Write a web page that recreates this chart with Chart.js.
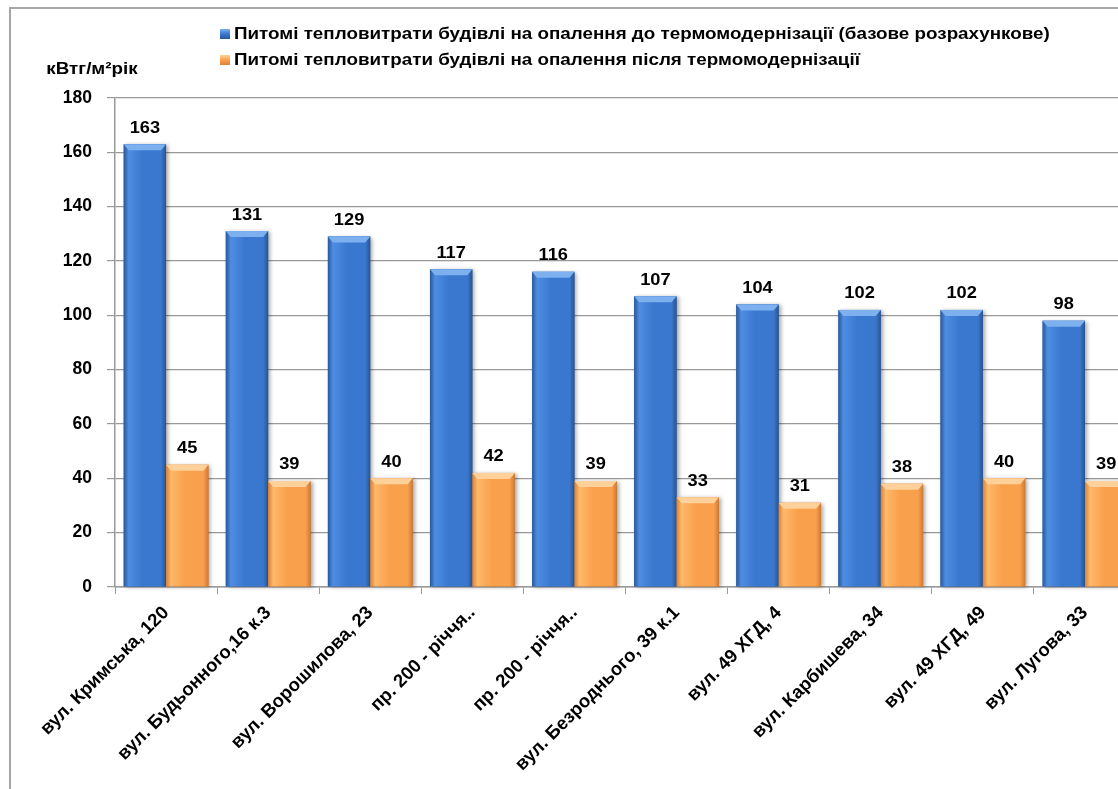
<html>
	<head>
		<meta charset="utf-8">
		<script src="https://cdn.jsdelivr.net/npm/chart.js"></script>
		<style>
			html, body { margin: 0; padding: 0; overflow: hidden; background: #fff; }
			#frame { position: absolute; left: 9px; top: 7px; width: 2000px; height: 2000px; border: 2px solid #a6a6a6; }
			#wrap { position: absolute; left: 0; top: 0; width: 1140px; height: 789px; }
		</style>
	</head>

	<body>
		<div id="frame"></div>
		<div id="wrap">
			<canvas id="myChart"></canvas>
		</div>

		<script>
			const categories = [
				'вул. Кримська, 120',
				'вул. Будьонного,16 к.3',
				'вул. Ворошилова, 23',
				'пр. 200 - річчя..',
				'пр. 200 - річчя..',
				'вул. Безроднього, 39 к.1',
				'вул. 49 ХГД, 4',
				'вул. Карбишева, 34',
				'вул. 49 ХГД, 49',
				'вул. Лугова, 33'
			];
			const before = [163, 131, 129, 117, 116, 107, 104, 102, 102, 98];
			const after = [45, 39, 40, 42, 39, 33, 31, 38, 40, 39];
			const seriesNames = [
				'Питомі тепловитрати будівлі на опалення до термомодернізації (базове розрахункове)',
				'Питомі тепловитрати будівлі на опалення після термомодернізації'
			];
			const yTicks = [0, 20, 40, 60, 80, 100, 120, 140, 160, 180];
			const yTitle = 'кВтг/м²рік';

			const FONT = '"Liberation Sans", Arial, sans-serif';
			const STRETCH = 1.14; // the original text is a bit wide

			// colours for the glossy bars: [dark edge, light, main, dark edge, top bevel]
			const palettes = [
				['#2a5898', '#4d8de2', '#3a78cf', '#28558f', '#7cb0ef'],
				['#d9823a', '#ffb869', '#f9a04c', '#cf7a34', '#ffd19a']
			];

			function wideText(ctx, text, x, y) {
				ctx.save();
				ctx.translate(x, y);
				ctx.scale(STRETCH, 1);
				ctx.fillText(text, 0, 0);
				ctx.restore();
			}

			const barStyle = {
				id: 'barStyle',
				afterDatasetsDraw(chart) {
					const ctx = chart.ctx;
					chart.data.datasets.forEach((ds, di) => {
						const p = palettes[di];
						chart.getDatasetMeta(di).data.forEach(bar => {
							const { x, y, base, width } = bar.getProps(['x', 'y', 'base', 'width'], true);
							const l = x - width / 2, r = x + width / 2;
							ctx.save();
							ctx.shadowColor = 'rgba(0,0,0,0.35)';
							ctx.shadowBlur = 4;
							ctx.shadowOffsetX = 2;
							ctx.shadowOffsetY = 1;
							const g = ctx.createLinearGradient(l, 0, r, 0);
							g.addColorStop(0, p[0]);
							g.addColorStop(0.12, p[1]);
							g.addColorStop(0.45, p[2]);
							g.addColorStop(0.88, p[2]);
							g.addColorStop(1, p[3]);
							ctx.fillStyle = g;
							ctx.fillRect(l, y, width, base - y);
							ctx.restore();
							// top bevel
							ctx.save();
							ctx.beginPath();
							ctx.moveTo(l, y);
							ctx.lineTo(r, y);
							ctx.lineTo(r - 5, y + 6);
							ctx.lineTo(l + 5, y + 6);
							ctx.closePath();
							ctx.fillStyle = p[4];
							ctx.fill();
							ctx.restore();
						});
					});
				}
			};

			const valueLabels = {
				id: 'valueLabels',
				afterDatasetsDraw(chart) {
					const ctx = chart.ctx;
					ctx.save();
					ctx.font = 'bold 16px ' + FONT;
					ctx.fillStyle = '#000';
					ctx.textAlign = 'center';
					ctx.textBaseline = 'bottom';
					chart.data.datasets.forEach((ds, di) => {
						chart.getDatasetMeta(di).data.forEach((bar, i) => {
							wideText(ctx, String(ds.data[i]), bar.x, bar.y - 8);
						});
					});
					ctx.restore();
				}
			};

			const headerText = {
				id: 'headerText',
				afterDraw(chart) {
					const ctx = chart.ctx;
					ctx.save();
					ctx.font = 'bold 16.5px ' + FONT;
					ctx.fillStyle = '#000';
					ctx.textBaseline = 'middle';
					ctx.textAlign = 'center';
					wideText(ctx, yTitle, 92, 69);
					ctx.textAlign = 'left';
					chart.data.datasets.forEach((ds, di) => {
						const yy = 34 + di * 26;
						const p = palettes[di];
						const g = ctx.createLinearGradient(0, yy - 5, 0, yy + 5);
						g.addColorStop(0, p[4]);
						g.addColorStop(0.5, p[2]);
						g.addColorStop(1, p[0]);
						ctx.fillStyle = g;
						ctx.fillRect(220, yy - 5, 10, 10);
						ctx.fillStyle = '#000';
						wideText(ctx, ds.label, 234, yy);
					});
					ctx.restore();
				}
			};

			const data = {
				labels: categories,
				datasets: [
					{ label: seriesNames[0], data: before, backgroundColor: '#3a78cf' },
					{ label: seriesNames[1], data: after, backgroundColor: '#f9a04c' }
				]
			};

			const options = {
				animation: false,
				responsive: true,
				maintainAspectRatio: false,
				layout: { padding: { top: 98, left: 0, right: 4, bottom: 0 } },
				datasets: { bar: { categoryPercentage: 0.83, barPercentage: 1 } },
				scales: {
					x: {
						afterFit(scale) { scale.height = 202; },
						grid: { drawOnChartArea: false, drawTicks: true, tickLength: 7, color: '#999' },
						border: { color: '#999', width: 1.5 },
						ticks: {
							minRotation: 45, maxRotation: 45, autoSkip: false,
							color: '#000', padding: 8,
							font: { family: FONT, size: 18.5, weight: 'bold' }
						}
					},
					y: {
						min: 0, max: 180,
						afterFit(scale) { scale.width = 115; },
						afterBuildTicks(scale) { scale.ticks = yTicks.map(v => ({ value: v })); },
						grid: { color: '#999', lineWidth: 1.2, tickLength: 8 },
						border: { color: '#999', width: 1.5 },
						ticks: {
							color: '#000', padding: 15,
							font: { family: FONT, size: 17.5, weight: 'bold' }
						}
					}
				},
				plugins: {
					legend: { display: false },
					tooltip: { enabled: false }
				}
			};

			new Chart(document.getElementById('myChart'), {
				type: 'bar',
				data,
				options,
				plugins: [barStyle, valueLabels, headerText]
			});
		</script>
	</body>
</html>
